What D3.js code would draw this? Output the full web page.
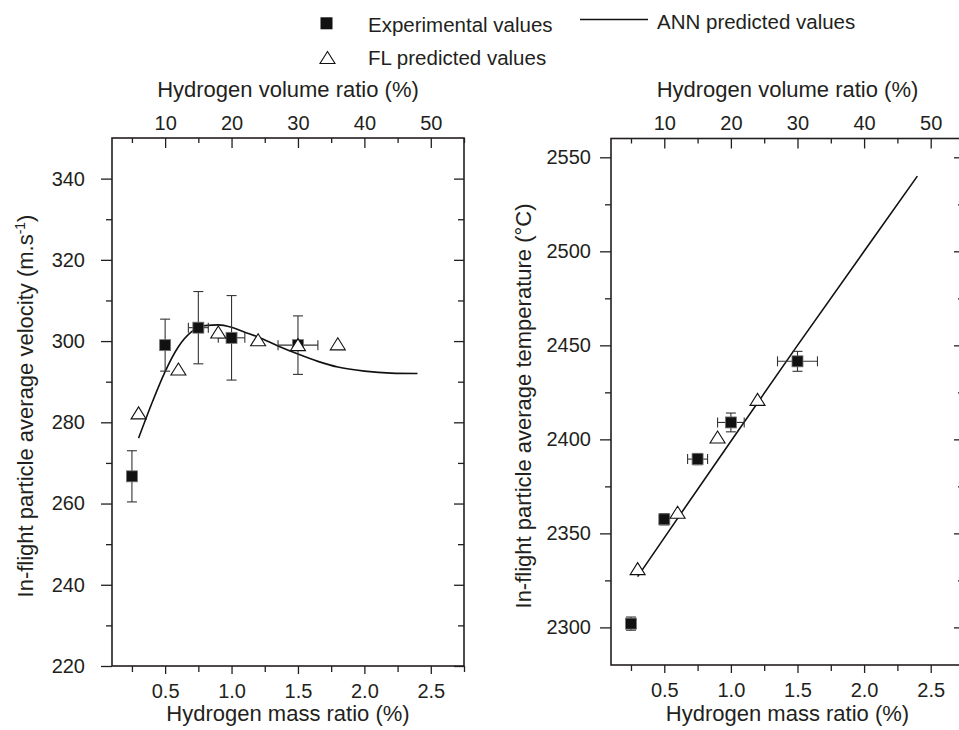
<!DOCTYPE html>
<html>
<head>
<meta charset="utf-8">
<script src="https://cdn.jsdelivr.net/npm/d3@7"></script>
<style>
  body { margin: 0; background: #fff; }
  svg { display: block; }
  text { font-family: "Liberation Sans", Arial, sans-serif; fill: #231f20; }
</style>
</head>
<body>
<svg id="chart"></svg>
<script>
// tick labels
const massTicks = [0.5, 1.0, 1.5, 2.0, 2.5];
const massMinor = [0.25, 0.75, 1.25, 1.75, 2.25, 2.75];
const volTicks = [10, 20, 30, 40, 50];
const volMinor = [5, 15, 25, 35, 45, 55];
const velTicks = [220, 240, 260, 280, 300, 320, 340];
const velMinor = [230, 250, 270, 290, 310, 330];
const tempTicks = [2300, 2350, 2400, 2450, 2500, 2550];
const tempMinor = [2325, 2375, 2425, 2475, 2525];

// experimental values (mass ratio, with error bars)
const expMass = [0.25, 0.5, 0.75, 1.0, 1.5];
const expMassErr = [0, 0.03, 0.075, 0.1, 0.15];
const expVel = [266.7, 299.0, 303.3, 300.8, 299.0];
const expVelErr = [6.3, 6.4, 8.9, 10.4, 7.2];
const expTemp = [2302, 2357.5, 2389.5, 2409, 2441.5];
const expTempErr = [3.5, 3, 3, 5, 5.3];

// FL predicted values
const flVelMass = [0.3, 0.6, 0.9, 1.2, 1.5, 1.8];
const flVel = [282.2, 293.0, 302.1, 300.2, 299.0, 299.2];
const flTempMass = [0.3, 0.6, 0.9, 1.2];
const flTemp = [2331, 2361, 2401, 2421];

// ANN predicted values
const annVelMass = [0.3, 0.4, 0.5, 0.6, 0.7, 0.8, 0.9, 1.0, 1.1, 1.2, 1.35, 1.5, 1.65, 1.8, 2.0, 2.2, 2.4];
const annVel = [276.1, 284.7, 292.5, 298.6, 302.3, 303.8, 304.0, 303.4, 302.2, 301.0, 298.8, 296.8, 295.0, 293.6, 292.6, 292.1, 292.0];
const annTempMass = [0.3, 0.6, 1.0, 1.5, 2.0, 2.4];
const annTemp = [2327, 2358, 2399, 2450, 2500, 2540];

const width = 959, height = 730;
const svg = d3.select("#chart").attr("width", width).attr("height", height);

const panels = [
  { x0: 112, x1: 464, y0: 138, y1: 666, yDomain: [220, 350], yTicks: velTicks, yMinor: velMinor,
    yPad: 16, yTitle: "In-flight particle average velocity (m.s", ySup: "-1", yTitleClose: ")", yTitleX: 33,
    exp: expVel, expErr: expVelErr, flX: flVelMass, flY: flVel, annX: annVelMass, annY: annVel, curve: d3.curveMonotoneX },
  { x0: 611, x1: 964, y0: 138.5, y1: 665, yDomain: [2280, 2560], yTicks: tempTicks, yMinor: tempMinor,
    yPad: 9, yTitle: "In-flight particle average temperature (\u00B0C)", ySup: null, yTitleClose: "", yTitleX: 531,
    exp: expTemp, expErr: expTempErr, flX: flTempMass, flY: flTemp, annX: annTempMass, annY: annTemp, curve: d3.curveLinear }
];

panels.forEach(p => {
  const x = d3.scaleLinear().domain([0.1, 2.75]).range([p.x0, p.x1]);
  const xv = d3.scaleLinear().domain([2, 55]).range([p.x0, p.x1]);
  const y = d3.scaleLinear().domain(p.yDomain).range([p.y1, p.y0]);
  const g = svg.append("g");

  // bottom axis (outward ticks)
  g.append("g").attr("transform", `translate(0,${p.y1})`)
    .call(d3.axisBottom(x).tickValues(massMinor).tickSize(6).tickFormat(""));
  g.append("g").attr("transform", `translate(0,${p.y1})`)
    .call(d3.axisBottom(x).tickValues(massTicks).tickSize(8).tickPadding(10).tickFormat(d3.format(".1f")));
  // top axis (inward ticks)
  g.append("g").attr("transform", `translate(0,${p.y0})`)
    .call(d3.axisTop(xv).tickValues(volMinor).tickSize(-5).tickFormat(""));
  g.append("g").attr("transform", `translate(0,${p.y0})`)
    .call(d3.axisTop(xv).tickValues(volTicks).tickSize(-10).tickPadding(8.5));
  // left axis (outward ticks)
  g.append("g").attr("transform", `translate(${p.x0},0)`)
    .call(d3.axisLeft(y).tickValues(p.yMinor).tickSize(6).tickFormat(""));
  g.append("g").attr("transform", `translate(${p.x0},0)`)
    .call(d3.axisLeft(y).tickValues(p.yTicks).tickSize(11).tickPadding(p.yPad).tickFormat(d3.format("d")));
  // right axis (inward ticks)
  g.append("g").attr("transform", `translate(${p.x1},0)`)
    .call(d3.axisRight(y).tickValues(p.yMinor).tickSize(-6).tickFormat(""));
  g.append("g").attr("transform", `translate(${p.x1},0)`)
    .call(d3.axisRight(y).tickValues(p.yTicks).tickSize(-10).tickFormat(""));

  g.selectAll(".domain").remove();
  g.selectAll(".tick line").attr("stroke", "#231f20").attr("stroke-width", 1.3);
  g.selectAll(".tick text").style("font-size", "20px").attr("fill", "#231f20");

  // frame
  g.append("rect").attr("x", p.x0).attr("y", p.y0)
    .attr("width", p.x1 - p.x0).attr("height", p.y1 - p.y0)
    .attr("fill", "none").attr("stroke", "#231f20").attr("stroke-width", 1.6);

  // axis titles
  const cx = (p.x0 + p.x1) / 2;
  g.append("text").attr("x", cx).attr("y", 96.5).attr("text-anchor", "middle")
    .style("font-size", "22px").text("Hydrogen volume ratio (%)");
  g.append("text").attr("x", cx).attr("y", 721).attr("text-anchor", "middle")
    .style("font-size", "22px").text("Hydrogen mass ratio (%)");
  const yt = g.append("text").attr("transform", `translate(${p.yTitleX},406) rotate(-90)`)
    .attr("text-anchor", "middle").style("font-size", "22px");
  yt.append("tspan").text(p.yTitle);
  if (p.ySup) {
    yt.append("tspan").attr("dy", "-0.55em").style("font-size", "14px").text(p.ySup);
    yt.append("tspan").attr("dy", "0.35em").text(p.yTitleClose);
  }

  // ANN curve
  const line = d3.line().x(d => x(d[0])).y(d => y(d[1])).curve(p.curve);
  g.append("path").datum(p.annX.map((m, i) => [m, p.annY[i]]))
    .attr("d", line).attr("fill", "none").attr("stroke", "#111").attr("stroke-width", 1.6);

  // error bars
  const eb = g.append("g").attr("stroke", "#333").attr("stroke-width", 1.1);
  expMass.forEach((m, i) => {
    const cxp = x(m), cyp = y(p.exp[i]);
    const yl = y(p.exp[i] - p.expErr[i]), yh = y(p.exp[i] + p.expErr[i]);
    eb.append("line").attr("x1", cxp).attr("x2", cxp).attr("y1", yl).attr("y2", yh);
    eb.append("line").attr("x1", cxp - 5).attr("x2", cxp + 5).attr("y1", yl).attr("y2", yl);
    eb.append("line").attr("x1", cxp - 5).attr("x2", cxp + 5).attr("y1", yh).attr("y2", yh);
    if (expMassErr[i] > 0) {
      const xl = x(m - expMassErr[i]), xh = x(m + expMassErr[i]);
      eb.append("line").attr("x1", xl).attr("x2", xh).attr("y1", cyp).attr("y2", cyp);
      eb.append("line").attr("x1", xl).attr("x2", xl).attr("y1", cyp - 5).attr("y2", cyp + 5);
      eb.append("line").attr("x1", xh).attr("x2", xh).attr("y1", cyp - 5).attr("y2", cyp + 5);
    }
  });

  // experimental squares
  g.selectAll(".sq").data(expMass).enter().append("rect")
    .attr("x", (d, i) => x(d) - 5.5).attr("y", (d, i) => y(p.exp[i]) - 5.5)
    .attr("width", 11).attr("height", 11)
    .attr("fill", "#111").attr("stroke", "#777").attr("stroke-width", 0.8);

  // FL triangles
  g.selectAll(".tri").data(p.flX).enter().append("path")
    .attr("d", (d, i) => {
      const tx = x(d), ty = y(p.flY[i]);
      return `M${tx},${ty - 6.5}L${tx + 7.5},${ty + 5.5}L${tx - 7.5},${ty + 5.5}Z`;
    })
    .attr("fill", "#fff").attr("stroke", "#111").attr("stroke-width", 1.1);
});

// legend
const lg = svg.append("g");
lg.append("rect").attr("x", 320.5).attr("y", 17.3).attr("width", 12).attr("height", 12).attr("fill", "#111");
lg.append("text").attr("x", 368).attr("y", 31.5).style("font-size", "20.5px").text("Experimental values");
lg.append("path").attr("d", "M327.5,51.5L335,63.5L320,63.5Z")
  .attr("fill", "#fff").attr("stroke", "#111").attr("stroke-width", 1.1);
lg.append("text").attr("x", 368).attr("y", 65).style("font-size", "20.5px").text("FL predicted values");
lg.append("line").attr("x1", 580).attr("x2", 648).attr("y1", 19.5).attr("y2", 19.5)
  .attr("stroke", "#111").attr("stroke-width", 1.5);
lg.append("text").attr("x", 657).attr("y", 28.5).style("font-size", "20.5px").text("ANN predicted values");
</script>
</body>
</html>
